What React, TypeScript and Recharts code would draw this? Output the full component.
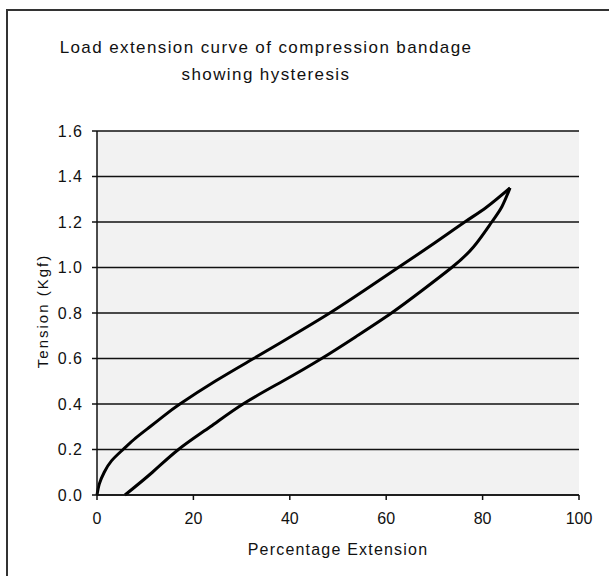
import { LineChart, Line, XAxis, YAxis, CartesianGrid } from 'recharts'

// loading path: from origin up to the peak
const loadingExt = [0, 0.5, 1.5, 3, 5.4, 8, 11, 14, 17.2, 24.5, 32.5, 40.5, 48.3, 55.5, 62.5, 69.5, 76.3, 80.8, 85.7]
const loadingTension = [0, 0.05, 0.1, 0.15, 0.2, 0.25, 0.3, 0.35, 0.4, 0.5, 0.6, 0.7, 0.8, 0.9, 1.0, 1.1, 1.2, 1.265, 1.35]

// unloading path: from the peak back down to zero tension
const unloadingExt = [85.7, 84, 81.9, 78.1, 73.6, 67.5, 61.1, 54, 46.6, 38.5, 30.3, 23.5, 16.9, 11.5, 5.8]
const unloadingTension = [1.35, 1.267, 1.2, 1.09, 1.0, 0.9, 0.8, 0.7, 0.6, 0.5, 0.4, 0.3, 0.2, 0.1, 0]

const xTicks = [0, 20, 40, 60, 80, 100]
const yTicks = [0, 0.2, 0.4, 0.6, 0.8, 1.0, 1.2, 1.4, 1.6]

const loading = loadingExt.map((x, i) => ({ x, y: loadingTension[i] }))
const unloading = unloadingExt.map((x, i) => ({ x, y: unloadingTension[i] }))

const FONT = '"Liberation Sans", Arial, sans-serif'

export default function App() {
  return (
    <div style={{ position: 'absolute', left: 0, top: 0, width: 609, height: 576, overflow: 'hidden', background: '#fff', fontFamily: FONT }}>
      <div style={{ position: 'absolute', left: 6, top: 9, width: 640, height: 620, border: '2px solid #333' }} />
      <div style={{ position: 'absolute', left: 0, width: 532, top: 34, textAlign: 'center', fontSize: 17, letterSpacing: 1.4, lineHeight: '27px', color: '#111' }}>
        Load extension curve of compression bandage<br />showing hysteresis
      </div>
      <LineChart
        width={609}
        height={576}
        margin={{ top: 131, right: 30, bottom: 51, left: 37 }}
        style={{ position: 'absolute', left: 0, top: 0 }}
      >
        <CartesianGrid vertical={false} stroke="#111" strokeWidth={1.5} fill="#f2f2f2" fillOpacity={1} />
        <XAxis
          type="number"
          dataKey="x"
          domain={[0, 100]}
          ticks={xTicks}
          height={30}
          tickSize={5}
          tickMargin={13}
          stroke="#111"
          strokeWidth={1.5}
          allowDuplicatedCategory={false}
          tick={{ fill: '#111', fontSize: 16, fontFamily: FONT }}
        />
        <YAxis
          type="number"
          domain={[0, 1.6]}
          ticks={yTicks}
          width={60}
          tickSize={5}
          tickMargin={9}
          stroke="#111"
          strokeWidth={1.5}
          tickFormatter={(v: number) => v.toFixed(1)}
          tick={{ fill: '#111', fontSize: 16, fontFamily: FONT, letterSpacing: 1 }}
        />
        <Line
          data={loading}
          type="natural"
          dataKey="y"
          stroke="#000"
          strokeWidth={3}
          dot={false}
          isAnimationActive={false}
        />
        <Line
          data={unloading}
          type="natural"
          dataKey="y"
          stroke="#000"
          strokeWidth={3}
          dot={false}
          isAnimationActive={false}
        />
      </LineChart>
      <div style={{ position: 'absolute', left: 238, width: 200, top: 541, textAlign: 'center', fontSize: 16, letterSpacing: 1.2, color: '#111' }}>
        Percentage Extension
      </div>
      <div style={{ position: 'absolute', left: 42, top: 311, transform: 'translate(-50%, -50%) rotate(-90deg)', whiteSpace: 'nowrap', fontSize: 15, letterSpacing: 2, color: '#111' }}>
        Tension (Kgf)
      </div>
    </div>
  )
}
